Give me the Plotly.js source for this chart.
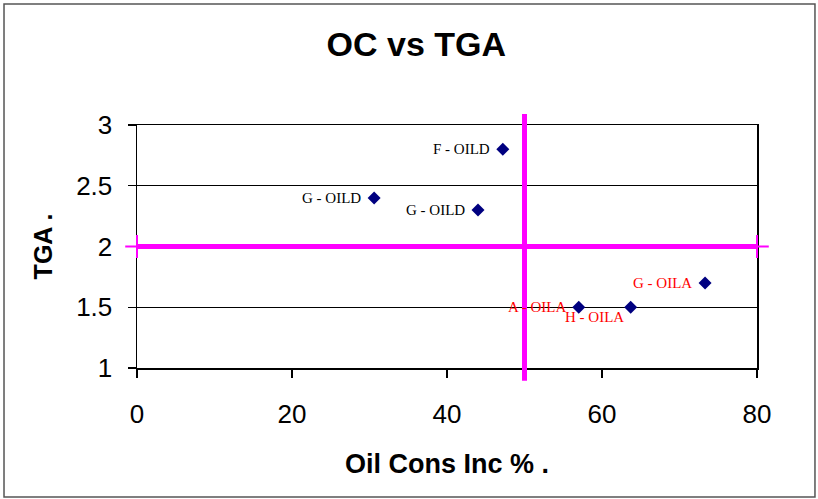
<!DOCTYPE html>
<html>
<head>
<meta charset="utf-8">
<script src="https://cdn.plot.ly/plotly-3.0.1.min.js"></script>
<style>html,body{margin:0;padding:0;background:#fff;}#chart{width:818px;height:499px;}</style>
</head>
<body>
<div id="chart"></div>
<script>
// ---- data ----
const oildLabels = ['F - OILD', 'G - OILD', 'G - OILD'];
const oildX = [47.2, 30.6, 44.0];
const oildY = [2.8, 2.4, 2.3];

const oilaLabels = ['A - OILA', 'H - OILA', 'G - OILA'];
const oilaX = [57.0, 63.7, 73.3];
const oilaY = [1.5, 1.5, 1.7];

const xThreshold = 50;
const yThreshold = 2;

const xTicks = [0, 20, 40, 60, 80];
const yTicks = [1, 1.5, 2, 2.5, 3];

// ---- chart ----
const allX = oildX.concat(oilaX);
const allY = oildY.concat(oilaY);

const traces = [{
  type: 'scatter', mode: 'markers',
  x: allX, y: allY,
  marker: {symbol: 'diamond', size: 10, color: '#000080'},
  cliponaxis: false, hoverinfo: 'x+y', showlegend: false
}];

const labelFont = {family: '"Liberation Serif", "Times New Roman", serif', size: 15};
const annotations = [];
oildLabels.forEach((t, i) => annotations.push({
  text: t, x: oildX[i], y: oildY[i], xref: 'x', yref: 'y', showarrow: false,
  xanchor: 'right', yanchor: 'middle', xshift: -11,
  font: Object.assign({color: '#000000'}, labelFont)
}));
oilaLabels.forEach((t, i) => {
  const below = t.startsWith('H');
  annotations.push({
    text: t, x: oilaX[i], y: oilaY[i], xref: 'x', yref: 'y', showarrow: false,
    xanchor: 'right', yanchor: 'middle', xshift: below ? -5 : -11, yshift: below ? -10 : 0,
    font: Object.assign({color: '#ff0000'}, labelFont)
  });
});

const mag = '#ff00ff';
const shapes = [
  // vertical threshold line (extends past plot area)
  {type: 'line', xref: 'x', yref: 'y domain', x0: xThreshold, x1: xThreshold, y0: -0.052, y1: 1.045,
   line: {color: mag, width: 5}},
  // horizontal threshold line: thin extension then thick body and caps
  {type: 'line', xref: 'x domain', yref: 'y', x0: -0.019, x1: 1.019, y0: yThreshold, y1: yThreshold,
   line: {color: mag, width: 2}},
  {type: 'line', xref: 'x domain', yref: 'y', x0: 0, x1: 1, y0: yThreshold, y1: yThreshold,
   line: {color: mag, width: 5}},
  {type: 'line', xref: 'x domain', yref: 'y', x0: 0, x1: 0, y0: yThreshold - 0.095, y1: yThreshold + 0.095,
   line: {color: mag, width: 2}},
  {type: 'line', xref: 'x domain', yref: 'y', x0: 1, x1: 1, y0: yThreshold - 0.095, y1: yThreshold + 0.095,
   line: {color: mag, width: 2}},
  // outer chart frame
  {type: 'rect', xref: 'paper', yref: 'paper', x0: -0.2145, x1: 1.0935, y0: -0.531, y1: 1.498,
   line: {color: '#555555', width: 1.5}, layer: 'below'}
];

const sans = '"Liberation Sans", Arial, sans-serif';
const layout = {
  width: 818, height: 499,
  margin: {l: 137, r: 61, t: 125, b: 131},
  paper_bgcolor: '#ffffff', plot_bgcolor: '#ffffff',
  title: {text: '<b>OC vs TGA</b>', x: 0.509, xanchor: 'center', y: 0.912, yanchor: 'middle',
          font: {family: sans, size: 34, color: '#000'}},
  xaxis: {
    range: [0, 80], tickvals: xTicks, ticktext: xTicks.map(String),
    showgrid: false, zeroline: false, showline: true, mirror: true, linecolor: '#000', linewidth: 1.5,
    ticks: 'outside', ticklen: 8, tickcolor: '#000', tickwidth: 1.3,
    ticklabelstandoff: 14,
    tickfont: {family: sans, size: 26, color: '#000'},
    title: {text: '<b>Oil Cons Inc % .</b>', font: {family: sans, size: 27, color: '#000'}, standoff: 26},
    automargin: false, fixedrange: true
  },
  yaxis: {
    range: [1, 3], tickvals: yTicks, ticktext: yTicks.map(String),
    showgrid: true, gridcolor: '#000', gridwidth: 1, zeroline: false,
    showline: true, mirror: true, linecolor: '#000', linewidth: 1.5,
    ticks: 'outside', ticklen: 8, tickcolor: '#000', tickwidth: 1.3,
    ticklabelstandoff: 10,
    tickfont: {family: sans, size: 26, color: '#000'},
    title: {text: '<b>TGA .</b>', font: {family: sans, size: 25, color: '#000'}, standoff: 16},
    automargin: false, fixedrange: true
  },
  shapes: shapes,
  annotations: annotations,
  showlegend: false
};

Plotly.newPlot('chart', traces, layout, {displayModeBar: false, staticPlot: true});
</script>
</body>
</html>
